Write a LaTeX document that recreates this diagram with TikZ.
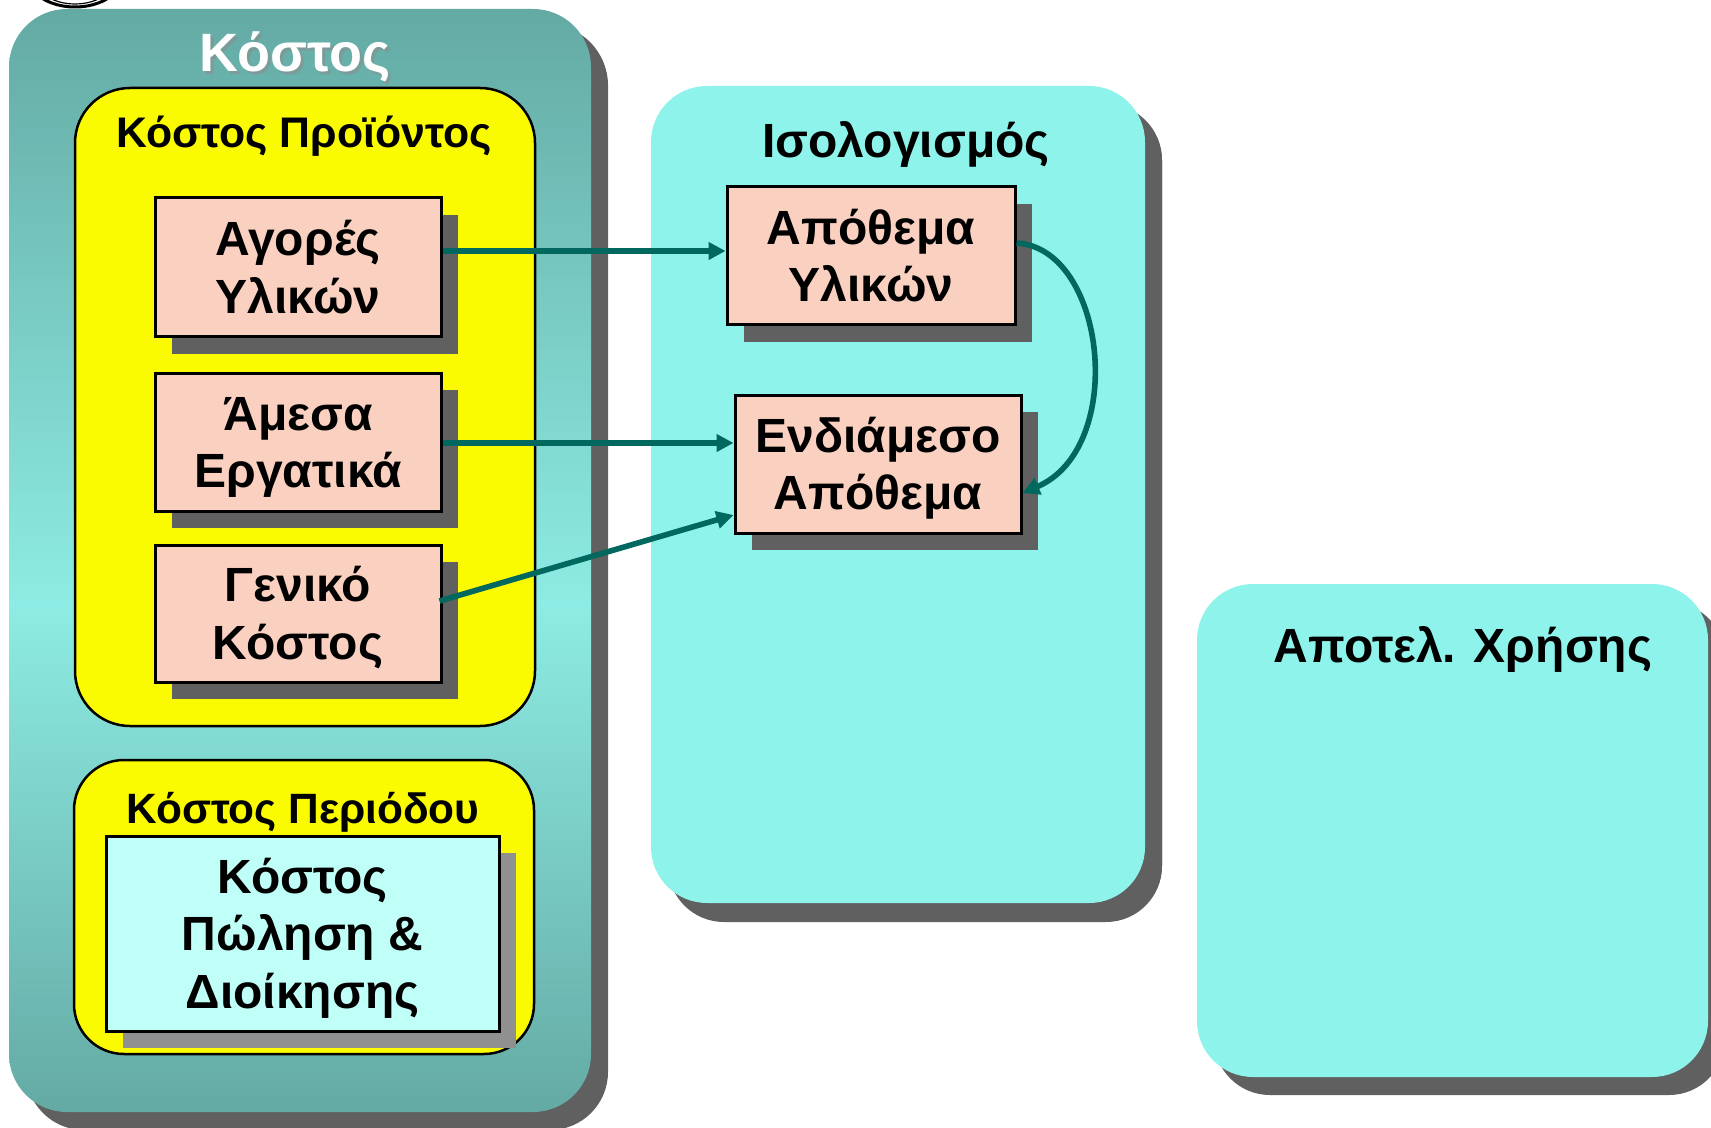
\documentclass[tikz,border=0pt]{standalone}
\usepackage{fontspec}
\setmainfont{Liberation Sans}
\usetikzlibrary{shadows,arrows.meta,calc}
\definecolor{tealdark}{RGB}{100,170,164}
\definecolor{teallight}{RGB}{141,236,227}
\definecolor{isofill}{RGB}{142,244,235}
\definecolor{yel}{RGB}{250,250,0}
\definecolor{peach}{RGB}{250,208,192}
\definecolor{pale}{RGB}{192,255,248}
\definecolor{shd}{RGB}{96,96,96}
\definecolor{shdl}{RGB}{144,144,144}
\definecolor{arrc}{RGB}{0,104,94}
\pgfdeclareverticalshading{kostshade}{100bp}{color(0bp)=(tealdark); color(25bp)=(tealdark); color(48bp)=(teallight); color(75bp)=(tealdark); color(100bp)=(tealdark)}
\newcommand\twol[2]{\smash{\makebox[0pt]{\raisebox{5.78pt}{#1}}\makebox[0pt]{\raisebox{-22.98pt}{#2}}}}
\newcommand\threel[3]{\smash{\makebox[0pt]{\raisebox{20.15pt}{#1}}\makebox[0pt]{\raisebox{-8.6pt}{#2}}\makebox[0pt]{\raisebox{-37.35pt}{#3}}}}
\tikzset{
  boxtxt/.style={font=\fontsize{24pt}{28.75pt}\selectfont\bfseries, inner sep=0pt},
  pbox/.style={boxtxt, draw=black, line width=1.5pt, fill=peach,
    drop shadow={shadow xshift=8.5pt, shadow yshift=-8.5pt, fill=shd, opacity=1}},
  cbox/.style={boxtxt, draw=black, line width=1.5pt, fill=pale,
    drop shadow={shadow xshift=8.5pt, shadow yshift=-8.5pt, fill=shdl, opacity=1}},
  ybox/.style={draw=black, line width=1.25pt, fill=yel, inner sep=0pt},
  bigbox/.style={inner sep=0pt, rounded corners=28pt,
    drop shadow={shadow xshift=8.5pt, shadow yshift=-9pt, fill=shd, opacity=1}},
  head/.style={anchor=base, inner sep=0pt, font=\fontsize{24pt}{28pt}\selectfont\bfseries},
  arr/.style={draw=arrc, line width=2.8pt, -{Triangle[length=8.5pt,width=8.5pt]}},
}
\begin{document}
\begin{tikzpicture}[x=0.5pt,y=-0.5pt]
\useasboundingbox (0,0) rectangle (1711,1128);
\fill[white] (0,0) rectangle (1711,1128);
% fragment of an oval at the top edge
\draw[line width=1.5pt] (75,-25) ellipse [x radius=24pt, y radius=16pt];
\draw[line width=0.6pt] (75,-25) ellipse [x radius=21pt, y radius=14.5pt];
% containers
\node[bigbox, shading=kostshade, rounded corners=29pt, minimum width=291pt, minimum height=551.5pt,
  drop shadow={shadow xshift=8pt, shadow yshift=-8pt, fill=shd, opacity=1}] (kost) at (300,560.5) {};
\node[ybox, rounded corners=27.5pt, minimum width=230pt, minimum height=319pt] (prod) at (305,407) {};
\node[ybox, rounded corners=25pt, minimum width=230pt, minimum height=147pt] (per) at (304,907) {};
\node[bigbox, fill=isofill, minimum width=247pt, minimum height=408.5pt,
  drop shadow={shadow xshift=8.5pt, shadow yshift=-9.5pt, fill=shd, opacity=1}] (iso) at (898,494.5) {};
\node[bigbox, fill=isofill, minimum width=255.5pt, minimum height=246.5pt] (apo) at (1452.5,830.5) {};
% headings
\node[head, font=\fontsize{27pt}{30pt}\selectfont\bfseries, text=black!45, opacity=0.55] (tks) at (298,75) {Κόστος};
\node[head, font=\fontsize{27pt}{30pt}\selectfont\bfseries, text=white] (tk) at (295,72) {Κόστος};
\node[head, font=\fontsize{21.4pt}{24pt}\selectfont\bfseries] (hprod) at (304,148) {Κόστος Προϊόντος};
\node[head, font=\fontsize{21.2pt}{24pt}\selectfont\bfseries] (hper) at (303,823) {Κόστος Περιόδου};
\node[head] (hiso) at (906,158) {Ισολογισμός};
\node[head] (hapo) at (1463,662) {Αποτελ. Χρήσης};
% boxes
\node[pbox, minimum width=143pt, minimum height=69.5pt] (ag) at (298,267.5) {\twol{Αγορές}{Υλικών}};
\node[pbox, minimum width=143pt, minimum height=69pt] (am) at (298,442) {\twol{Άμεσα}{Εργατικά}};
\node[pbox, minimum width=143pt, minimum height=68.5pt] (gk) at (298,613.5) {\twol{Γενικό}{Κόστος}};
\node[pbox, minimum width=144pt, minimum height=69pt] (ay) at (871,256) {\twol{Απόθεμα}{Υλικών}};
\node[pbox, minimum width=143pt, minimum height=69pt] (en) at (878,464) {\twol{Ενδιάμεσο}{Απόθεμα}};
\node[cbox, minimum width=196.5pt, minimum height=97.5pt] (kp) at (302.5,933.5) {\threel{Κόστος}{Πώληση \&}{Διοίκησης}};
% connectors
\draw[arr] ([yshift=8.25pt]ag.east) -- ([yshift=2.5pt]ay.west);
\draw[arr] ([yshift=-0.5pt]am.east) -- ([yshift=10.5pt]en.west);
\draw[arr] ([yshift=6.25pt,xshift=-1.5pt]gk.east) -- ([yshift=-25.5pt]en.west);
\draw[arr] ([yshift=6.5pt]ay.east) .. controls +(90,5) and +(105,-45) .. ([yshift=-14.5pt]en.east);
\end{tikzpicture}
\end{document}
